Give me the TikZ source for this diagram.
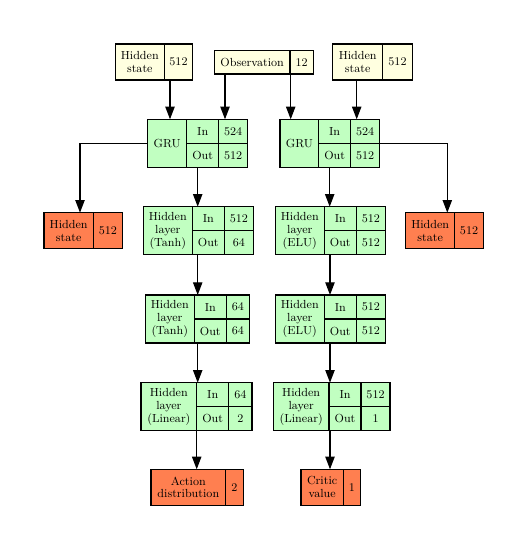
\documentclass[tikz,border=0pt]{standalone}
\usepackage{tikz}
\usetikzlibrary{arrows.meta}
\definecolor{inputyellow}{HTML}{FFFFE0}
\definecolor{layergreen}{HTML}{C1FFC1}
\definecolor{outputcoral}{HTML}{FF7F50}

\begin{document}
\begin{tikzpicture}[x=0.75pt,y=-0.75pt,edge/.style={draw, line width=0.9pt, -{Triangle[length=9.5pt,width=7pt]}}]
    \tikzstyle{cell}=[draw, line width=0.9pt, inner sep=0, outer sep=0, align=center, anchor=north west, font=\fontsize{8.8}{9.6}\selectfont]
    \tikzstyle{input cell}=[cell, fill=inputyellow]
    \tikzstyle{layer cell}=[cell, fill=layergreen]
    \tikzstyle{output cell}=[cell, fill=outputcoral]
    \tikzstyle{two line}=[minimum height=27pt]
    \tikzstyle{full row}=[minimum height=36pt]
    \tikzstyle{half row}=[minimum height=18pt]
    \tikzstyle{port}=[minimum width=24pt]

    \useasboundingbox (0,0) rectangle (528,550);

    \node[input cell, two line, minimum width=36.75pt](hsAname) at (115.3,44) {Hidden\\state};
    \node[input cell, two line, minimum width=21.3pt](hsAsize) at (hsAname.north east) {512};
    \node[input cell, minimum height=17.5pt, minimum width=56.8pt](obsname) at (214.3,50.7) {Observation};
    \node[input cell, minimum height=17.5pt, minimum width=17.5pt](obssize) at (obsname.north east) {12};
    \node[input cell, two line, minimum width=37.5pt](hsBname) at (332.7,44) {Hidden\\state};
    \node[input cell, two line, minimum width=22.2pt](hsBsize) at (hsBname.north east) {512};

    \node[layer cell, full row, minimum width=29.25pt](gruAname) at (147.7,119.3) {GRU};
    \node[layer cell, half row, port](gruAin) at (gruAname.north east) {In};
    \node[layer cell, half row, minimum width=21.75pt](gruAinsize) at (gruAin.north east) {524};
    \node[layer cell, half row, port](gruAout) at (gruAin.south west) {Out};
    \node[layer cell, half row, minimum width=21.75pt](gruAoutsize) at (gruAout.north east) {512};

    \node[layer cell, full row, minimum width=29pt](gruBname) at (280,119.3) {GRU};
    \node[layer cell, half row, port](gruBin) at (gruBname.north east) {In};
    \node[layer cell, half row, minimum width=21.75pt](gruBinsize) at (gruBin.north east) {524};
    \node[layer cell, half row, port](gruBout) at (gruBin.south west) {Out};
    \node[layer cell, half row, minimum width=21.75pt](gruBoutsize) at (gruBout.north east) {512};

    \node[output cell, two line, minimum width=37pt](outhsAname) at (44,212.7) {Hidden\\state};
    \node[output cell, two line, minimum width=21.75pt](outhsAsize) at (outhsAname.north east) {512};
    \node[output cell, two line, minimum width=36.75pt](outhsBname) at (405.7,212.7) {Hidden\\state};
    \node[output cell, two line, minimum width=21.5pt](outhsBsize) at (outhsBname.north east) {512};

    \node[layer cell, full row, minimum width=36.75pt](tanhAname) at (143.3,206.7) {Hidden\\layer\\(Tanh)};
    \node[layer cell, half row, port](tanhAin) at (tanhAname.north east) {In};
    \node[layer cell, half row, minimum width=21.75pt](tanhAinsize) at (tanhAin.north east) {512};
    \node[layer cell, half row, port](tanhAout) at (tanhAin.south west) {Out};
    \node[layer cell, half row, minimum width=21.75pt](tanhAoutsize) at (tanhAout.north east) {64};

    \node[layer cell, full row, minimum width=36.75pt](tanhBname) at (145.3,295) {Hidden\\layer\\(Tanh)};
    \node[layer cell, half row, port](tanhBin) at (tanhBname.north east) {In};
    \node[layer cell, half row, minimum width=17.5pt](tanhBinsize) at (tanhBin.north east) {64};
    \node[layer cell, half row, port](tanhBout) at (tanhBin.south west) {Out};
    \node[layer cell, half row, minimum width=17.5pt](tanhBoutsize) at (tanhBout.north east) {64};

    \node[layer cell, full row, minimum width=36.75pt](eluAname) at (275.3,206.7) {Hidden\\layer\\(ELU)};
    \node[layer cell, half row, port](eluAin) at (eluAname.north east) {In};
    \node[layer cell, half row, minimum width=22pt](eluAinsize) at (eluAin.north east) {512};
    \node[layer cell, half row, port](eluAout) at (eluAin.south west) {Out};
    \node[layer cell, half row, minimum width=22pt](eluAoutsize) at (eluAout.north east) {512};

    \node[layer cell, full row, minimum width=36.75pt](eluBname) at (275.3,295) {Hidden\\layer\\(ELU)};
    \node[layer cell, half row, port](eluBin) at (eluBname.north east) {In};
    \node[layer cell, half row, minimum width=22pt](eluBinsize) at (eluBin.north east) {512};
    \node[layer cell, half row, port](eluBout) at (eluBin.south west) {Out};
    \node[layer cell, half row, minimum width=22pt](eluBoutsize) at (eluBout.north east) {512};

    \node[layer cell, full row, minimum width=41.8pt](linAname) at (141,382.7) {Hidden\\layer\\(Linear)};
    \node[layer cell, half row, port](linAin) at (linAname.north east) {In};
    \node[layer cell, half row, minimum width=17.5pt](linAinsize) at (linAin.north east) {64};
    \node[layer cell, half row, port](linAout) at (linAin.south west) {Out};
    \node[layer cell, half row, minimum width=17.5pt](linAoutsize) at (linAout.north east) {2};

    \node[layer cell, full row, minimum width=41.8pt](linBname) at (273.3,382.7) {Hidden\\layer\\(Linear)};
    \node[layer cell, half row, port](linBin) at (linBname.north east) {In};
    \node[layer cell, half row, minimum width=21.75pt](linBinsize) at (linBin.north east) {512};
    \node[layer cell, half row, port](linBout) at (linBin.south west) {Out};
    \node[layer cell, half row, minimum width=21.75pt](linBoutsize) at (linBout.north east) {1};

    \node[output cell, two line, minimum width=56pt](actionname) at (151,469.3) {Action\\distribution};
    \node[output cell, two line, minimum width=13.2pt](actionsize) at (actionname.north east) {2};
    \node[output cell, two line, minimum width=31.7pt](criticname) at (301,469.3) {Critic\\value};
    \node[output cell, two line, minimum width=13.1pt](criticsize) at (criticname.north east) {1};

    \draw[edge] (hsAname.south -| 170,0) -- (gruAname.north -| 170,0);
    \draw[edge] (obsname.south -| 225,0) -- (gruAname.north -| 225,0);
    \draw[edge] (obsname.south -| 290.7,0) -- (gruBname.north -| 290.7,0);
    \draw[edge] (hsBname.south -| 356.7,0) -- (gruBname.north -| 356.7,0);
    \draw[edge] (gruAname.west) -| (outhsAname.north -| 80,0);
    \draw[edge] (gruBoutsize.north east) -| (outhsBname.north -| 447.3,0);
    \draw[edge] (gruAout.south -| 197.7,0) -- (tanhAname.north -| 197.7,0);
    \draw[edge] (tanhAout.south -| 197.7,0) -- (tanhBname.north -| 197.7,0);
    \draw[edge] (tanhBout.south -| 197.7,0) -- (linAname.north -| 197.7,0);
    \draw[edge] (linAout.south -| 196.7,0) -- (actionname.north -| 196.7,0);
    \draw[edge] (gruBout.south -| 329.7,0) -- (eluAname.north -| 329.7,0);
    \draw[edge] (eluAout.south -| 330,0) -- (eluBname.north -| 330,0);
    \draw[edge] (eluBout.south -| 330,0) -- (linBname.north -| 330,0);
    \draw[edge] (linBout.south -| 330,0) -- (criticname.north -| 330,0);
\end{tikzpicture}
\end{document}
